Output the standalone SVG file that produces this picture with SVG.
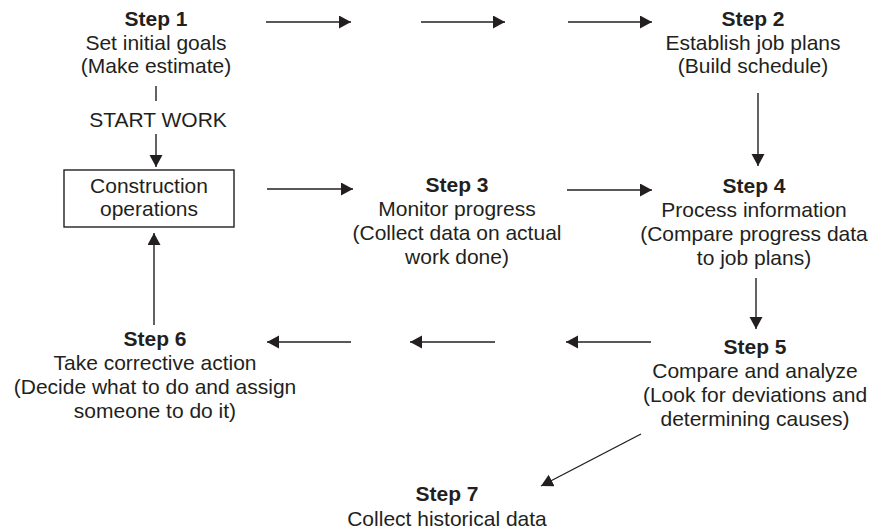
<svg xmlns="http://www.w3.org/2000/svg" width="874" height="531" viewBox="0 0 874 531">
  <style>
    text { font-family: "Liberation Sans", Arial, Helvetica, sans-serif; font-size: 21px; fill: #231f20; text-anchor: middle; }
    .title { font-weight: bold; }
    .conn line { stroke: #231f20; stroke-width: 1.4; fill: none; marker-end: url(#arrow); }
    .conn line.plain { marker-end: none; }
    .box { fill: #ffffff; stroke: #231f20; stroke-width: 1.4; }
  </style>
  <defs>
    <marker id="arrow" markerUnits="userSpaceOnUse" markerWidth="13" markerHeight="14" refX="12" refY="6.5" orient="auto">
      <path d="M0,0 L12,6.5 L0,13 Z" fill="#231f20"/>
    </marker>
  </defs>
  <rect width="874" height="531" fill="#ffffff"/>

  <!-- Connectors -->
  <g id="connectors" class="conn">
    <!-- top row, step 1 to step 2 -->
    <line x1="266" y1="22" x2="351" y2="22"/>
    <line x1="421" y1="22" x2="505" y2="22"/>
    <line x1="568" y1="22" x2="652" y2="22"/>
    <!-- step 1 down to construction operations -->
    <line class="plain" x1="156" y1="86" x2="156" y2="101"/>
    <line x1="156" y1="134" x2="156" y2="167"/>
    <!-- step 2 down to step 4 -->
    <line x1="758" y1="93" x2="758" y2="166"/>
    <!-- middle row -->
    <line x1="267" y1="189" x2="353" y2="189"/>
    <line x1="567" y1="190" x2="652" y2="190"/>
    <!-- step 4 down to step 5 -->
    <line x1="756" y1="278" x2="756" y2="329"/>
    <!-- bottom row, step 5 back to step 6 -->
    <line x1="651" y1="342" x2="566" y2="342"/>
    <line x1="495" y1="342" x2="410" y2="342"/>
    <line x1="351" y1="342" x2="267" y2="342"/>
    <!-- step 6 up to construction operations -->
    <line x1="154" y1="325" x2="154" y2="233"/>
    <!-- step 5 to step 7 -->
    <line x1="641" y1="434" x2="541" y2="486"/>
  </g>

  <g id="step1">
    <text class="title" x="156" y="26">Step 1</text>
    <text x="156" y="50">Set initial goals</text>
    <text x="156" y="73">(Make estimate)</text>
  </g>

  <g id="start-work">
    <text x="158" y="127">START WORK</text>
  </g>

  <g id="construction">
    <rect class="box" x="64" y="170" width="170" height="57"/>
    <text x="149" y="193">Construction</text>
    <text x="149" y="216">operations</text>
  </g>

  <g id="step2">
    <text class="title" x="753" y="26">Step 2</text>
    <text x="753" y="50">Establish job plans</text>
    <text x="753" y="73">(Build schedule)</text>
  </g>

  <g id="step3">
    <text class="title" x="457" y="192">Step 3</text>
    <text x="457" y="216">Monitor progress</text>
    <text x="457" y="240">(Collect data on actual</text>
    <text x="457" y="264">work done)</text>
  </g>

  <g id="step4">
    <text class="title" x="754" y="193">Step 4</text>
    <text x="754" y="217">Process information</text>
    <text x="754" y="241">(Compare progress data</text>
    <text x="754" y="265">to job plans)</text>
  </g>

  <g id="step5">
    <text class="title" x="755" y="354">Step 5</text>
    <text x="755" y="378">Compare and analyze</text>
    <text x="755" y="402">(Look for deviations and</text>
    <text x="755" y="426">determining causes)</text>
  </g>

  <g id="step6">
    <text class="title" x="155" y="346">Step 6</text>
    <text x="155" y="370">Take corrective action</text>
    <text x="155" y="394">(Decide what to do and assign</text>
    <text x="155" y="418">someone to do it)</text>
  </g>

  <g id="step7">
    <text class="title" x="447" y="501">Step 7</text>
    <text x="447" y="526">Collect historical data</text>
  </g>
</svg>
